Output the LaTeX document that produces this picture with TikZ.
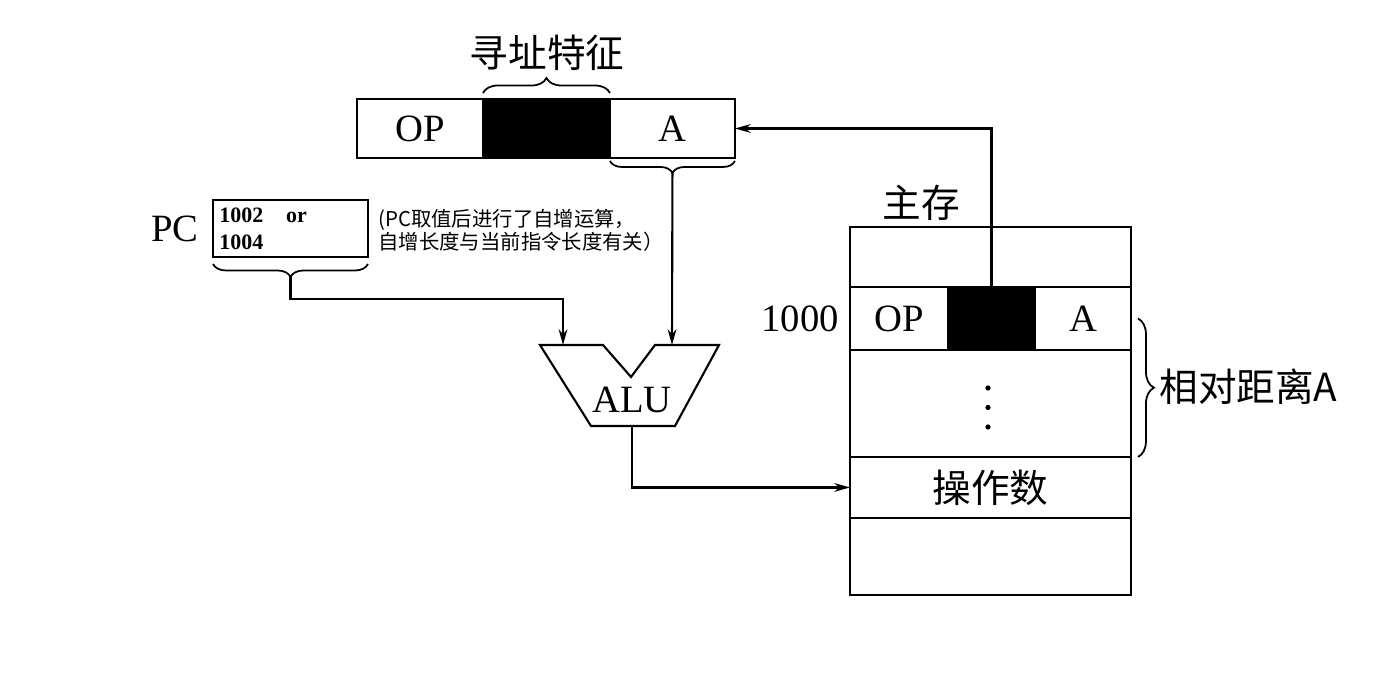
\documentclass[tikz,border=0pt]{standalone}
\usepackage{fontspec}
\setmainfont{Liberation Serif}
\newfontfamily\cjk{Noto Sans CJK SC}
\usetikzlibrary{positioning,decorations.pathreplacing,arrows.meta}
\newcommand{\bt}{\fontsize{22}{26}\selectfont}
\newcommand{\st}{\fontsize{11.6}{11.6}\selectfont}
\tikzset{
    cell/.style={draw, line width=1.2pt, inner sep=0pt, outer sep=0pt, font=\bt},
    blk/.style={cell, fill=black},
    lbl/.style={inner sep=0pt, font=\bt},
    brc/.style={decorate, decoration={brace, amplitude=#1}, line width=1pt},
    wire/.style={line width=1.2pt, -{Stealth[length=9pt,width=5pt]}}
}
\begin{document}
\begin{tikzpicture}[x=0.02cm, y=-0.02cm]
        \useasboundingbox (0,0) rectangle (1400,695);

        \node[cell, minimum width=2.52cm, minimum height=1.18cm] (iop) at (420,128.5) {OP};
        \node[blk, minimum width=2.54cm, minimum height=1.18cm, right=0pt of iop] (ik) {};
        \node[cell, minimum width=2.5cm, minimum height=1.18cm, right=0pt of ik] (ia) {A};
        \draw[brc=0.3cm] ([yshift=0.12cm]ik.north west) -- ([yshift=0.12cm]ik.north east);
        \node[lbl, font=\cjk\bt] (feat) at (547,53) {寻址特征};
        \draw[brc=0.24cm] ([yshift=-0.06cm]ia.south east) -- ([yshift=-0.06cm]ia.south west);
        \coordinate (atip) at ([yshift=-0.3cm]ia.south);

        \node[cell, minimum width=3.1cm, minimum height=1.14cm] (pc) at (290.5,228.5) {};
        \node[anchor=west, inner sep=0pt, align=left, font=\fontsize{12.5}{15.3}\selectfont\bfseries] (pcv) at (219,228.5) {1002\hspace{13pt}or\\1004};
        \node[lbl, left=0.28cm of pc] (pcl) {PC};
        \node[anchor=west, inner sep=0pt, align=left, font=\cjk\st] (note) at (378,230) {(PC取值后进行了自增运算，\\自增长度与当前指令长度有关）};
        \draw[brc=0.26cm] ([yshift=-0.14cm]pc.south east) -- ([yshift=-0.14cm]pc.south west);
        \coordinate (pctip) at ([yshift=-0.4cm]pc.south);

        \coordinate (alul) at (563,345);
        \coordinate (alur) at (672,345);
        \coordinate (aluo) at (632,426);
        \draw[line width=1.2pt] (540,345) -- (603,345) -- (631,377) -- (655,345) -- (719,345) -- (675,426) -- (591,426) -- cycle;
        \node[lbl] (alu) at (632,400) {ALU};

        \node[cell, minimum width=5.62cm, minimum height=1.2cm] (m0) at (990.5,257) {};
        \node[cell, anchor=north west, minimum width=1.96cm, minimum height=1.26cm] (mop) at (m0.south west) {OP};
        \node[blk, minimum width=1.74cm, minimum height=1.26cm, right=0pt of mop] (mk) {};
        \node[cell, minimum width=1.92cm, minimum height=1.26cm, right=0pt of mk] (ma) {A};
        \node[cell, anchor=north west, minimum width=5.62cm, minimum height=2.14cm] (m2) at (mop.south west) {};
        \foreach \d in {0.31,-0.08,-0.47}
            \fill ([xshift=-0.05cm, yshift=\d cm]m2.center) circle (1.5pt);
        \node[cell, below=0pt of m2, minimum width=5.62cm, minimum height=1.22cm, font=\cjk\bt] (m3) {操作数};
        \node[cell, below=0pt of m3, minimum width=5.62cm, minimum height=1.54cm] (m4) {};
        \node[lbl, left=0.22cm of mop] (addr) {1000};
        \node[lbl, font=\cjk\bt] (mem) at (921,203) {主存};
        \draw[brc=0.32cm] ([xshift=0.14cm]ma.east) -- ([xshift=0.14cm]m2.south east);
        \node[lbl, font=\cjk\bt, anchor=west] (dist) at (1159,387) {相对距离A};

        \draw[wire] (pctip) -- ++(0,22) -| (alul);
        \draw[wire] (atip) -- (alur);
        \draw[wire] (aluo) |- (m3.west);
        \draw[wire] (mk.north) |- (ia.east);
    \end{tikzpicture}
\end{document}
